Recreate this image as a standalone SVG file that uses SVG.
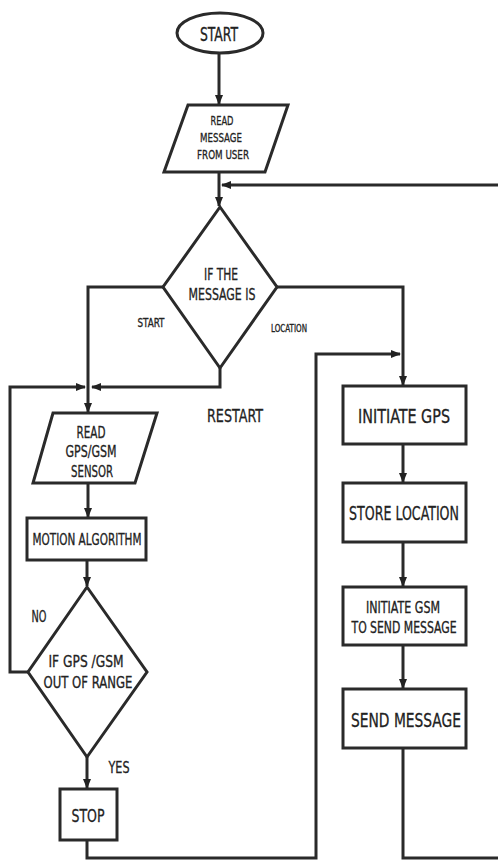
<svg xmlns="http://www.w3.org/2000/svg" width="498" height="860" viewBox="0 0 498 860">
<defs>
<marker id="ah" viewBox="0 0 10 10" refX="9" refY="5" markerWidth="10" markerHeight="10" markerUnits="userSpaceOnUse" orient="auto">
<path d="M0,1 L10,5 L0,9 z" fill="#222"/>
</marker>
</defs>
<style>
.s{fill:#fff;stroke:#2a2a2a;stroke-width:3}
.c{fill:none;stroke:#2a2a2a;stroke-width:3;marker-end:url(#ah)}
.n{fill:none;stroke:#2a2a2a;stroke-width:3}
text{font-family:"DejaVu Sans Condensed","Liberation Sans",sans-serif;fill:#222;stroke:#222;stroke-width:0.3;text-anchor:middle}
</style>
<rect width="498" height="860" fill="#fff"/>
<g id="connectors">
<path class="c" d="M219,53 V104"/>
<path class="c" d="M219,172 V206"/>
<path class="c" d="M498,185 H222"/>
<path class="c" d="M163,287 H88 V412"/>
<path class="c" d="M220,368 V387 H92"/>
<path class="c" d="M28,672 H10 V387 H85"/>
<path class="c" d="M277,287 H403 V385"/>
<path class="c" d="M88,483 V517"/>
<path class="c" d="M87,560 V586"/>
<path class="c" d="M87,757 V788"/>
<path class="c" d="M87,840 V858 H316 V354 H400"/>
<path class="c" d="M403,444 V482"/>
<path class="c" d="M403,542 V586"/>
<path class="c" d="M403,645 V688"/>
<path class="n" d="M403,748 V858 H498"/>
</g>
<g id="start">
<ellipse class="s" cx="220" cy="33" rx="43" ry="20"/>
<text x="219" y="41" font-size="19" textLength="38" lengthAdjust="spacingAndGlyphs">START</text>
</g>
<g id="readMessage">
<polygon class="s" points="188,105 288,105 265,172 164,172"/>
<text x="222" y="125" font-size="13" textLength="23" lengthAdjust="spacingAndGlyphs">READ</text>
<text x="221" y="142" font-size="13" textLength="42" lengthAdjust="spacingAndGlyphs">MESSAGE</text>
<text x="223" y="159" font-size="13" textLength="52" lengthAdjust="spacingAndGlyphs">FROM USER</text>
</g>
<g id="decision1">
<polygon class="s" points="220,207 277,287 220,368 163,287"/>
<text x="221" y="280" font-size="16" textLength="34" lengthAdjust="spacingAndGlyphs">IF THE</text>
<text x="222" y="300" font-size="16" textLength="67" lengthAdjust="spacingAndGlyphs">MESSAGE IS</text>
</g>
<g id="labels">
<text x="151" y="327" font-size="12" textLength="27" lengthAdjust="spacingAndGlyphs">START</text>
<text x="289" y="332" font-size="10" textLength="36" lengthAdjust="spacingAndGlyphs">LOCATION</text>
<text x="235" y="422" font-size="18" textLength="56" lengthAdjust="spacingAndGlyphs">RESTART</text>
<text x="39" y="622" font-size="15" textLength="15" lengthAdjust="spacingAndGlyphs">NO</text>
<text x="119" y="773" font-size="15" textLength="21" lengthAdjust="spacingAndGlyphs">YES</text>
</g>
<g id="readSensor">
<polygon class="s" points="53,413 157,413 135,483 33,483"/>
<text x="91" y="438" font-size="16" textLength="29" lengthAdjust="spacingAndGlyphs">READ</text>
<text x="91" y="457" font-size="16" textLength="51" lengthAdjust="spacingAndGlyphs">GPS/GSM</text>
<text x="92" y="477" font-size="16" textLength="42" lengthAdjust="spacingAndGlyphs">SENSOR</text>
</g>
<g id="motion">
<rect class="s" x="27" y="518" width="119" height="42"/>
<text x="87" y="545" font-size="15" textLength="109" lengthAdjust="spacingAndGlyphs">MOTION ALGORITHM</text>
</g>
<g id="decision2">
<polygon class="s" points="87,587 147,672 87,757 28,672"/>
<text x="86" y="667" font-size="16" textLength="75" lengthAdjust="spacingAndGlyphs">IF GPS /GSM</text>
<text x="88" y="688" font-size="16" textLength="89" lengthAdjust="spacingAndGlyphs">OUT OF RANGE</text>
</g>
<g id="stop">
<rect class="s" x="60" y="789" width="57" height="51"/>
<text x="88" y="822" font-size="18" textLength="33" lengthAdjust="spacingAndGlyphs">STOP</text>
</g>
<g id="initGps">
<rect class="s" x="343" y="386" width="123" height="58"/>
<text x="404" y="423" font-size="20" textLength="92" lengthAdjust="spacingAndGlyphs">INITIATE GPS</text>
</g>
<g id="storeLocation">
<rect class="s" x="343" y="483" width="123" height="59"/>
<text x="404" y="520" font-size="20" textLength="110" lengthAdjust="spacingAndGlyphs">STORE LOCATION</text>
</g>
<g id="initGsm">
<rect class="s" x="343" y="587" width="123" height="58"/>
<text x="403" y="613" font-size="15" textLength="74" lengthAdjust="spacingAndGlyphs">INITIATE GSM</text>
<text x="404" y="633" font-size="15" textLength="105" lengthAdjust="spacingAndGlyphs">TO SEND MESSAGE</text>
</g>
<g id="sendMessage">
<rect class="s" x="343" y="689" width="123" height="59"/>
<text x="406" y="727" font-size="20" textLength="110" lengthAdjust="spacingAndGlyphs">SEND MESSAGE</text>
</g>
</svg>
